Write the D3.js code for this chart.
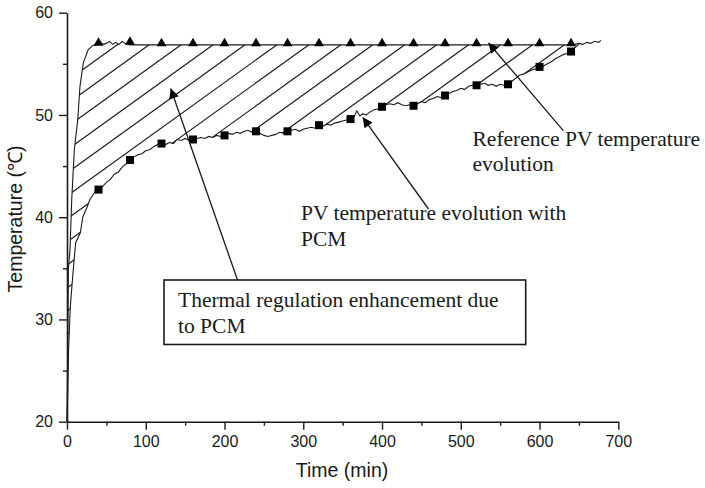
<!DOCTYPE html>
<html><head><meta charset="utf-8">
<script src="https://cdn.jsdelivr.net/npm/d3@7"></script>
<style>body{margin:0;background:#fff}svg{display:block}</style>
</head><body><svg id="c" width="705" height="488"></svg>
<script>
// ---- data ----
const refTime = [0,1,1.7,3.8,6,9.3,13.6,16.5,20.7,27,33,38,42,46,50,54,58,62,66,70,74,78,80,640,645,650,655,660,665,670,675,678];
const refTemp = [20,28,34.9,36.8,41.7,46.6,49.5,52.8,55.1,56.4,56.8,56.9,57.1,56.9,57.0,57.2,56.9,57.1,56.9,57.2,57.0,56.9,56.85,56.85,56.9,57.0,56.9,57.1,57.0,57.2,57.1,57.3];
const pcmTime = [0,1,2,4,6,8,11,14,17,20,25,29,33,36,40,45,50,55,60,65,70,75,80,85,90,95,100,105,110,115,120,125,130,135,140,145,150,155,160,165,170,175,180,185,190,195,200,205,210,215,220,225,230,235,240,245,250,255,260,265,270,275,280,285,290,295,300,305,310,315,320,325,330,335,340,345,350,355,360,365,368,372,375,380,385,390,395,400,405,410,415,420,425,430,435,440,445,450,455,460,465,470,475,480,485,490,495,500,505,510,515,520,525,530,535,540,545,550,555,560,565,570,575,580,585,590,595,600,605,610,615,620,625,630,635,640,645,650];
const pcmTemp = [20,23,27,31,33,34.9,37.5,38.0,38.5,40.0,40.9,41.7,42.2,42.5,42.7,43.0,43.4,43.7,44.2,44.4,44.9,45.2,45.6,45.9,46.1,46.2,46.5,46.6,46.9,47.1,47.2,47.1,47.3,47.2,47.6,47.5,47.7,47.5,47.6,47.7,47.8,47.7,47.9,47.8,48.0,47.9,48.0,48.2,48.1,48.3,48.2,48.4,48.5,48.3,48.4,48.2,48.0,47.9,48.0,48.1,48.3,48.2,48.4,48.5,48.6,48.4,48.6,48.7,48.8,48.7,49.0,48.9,49.1,49.0,49.2,49.3,49.4,49.5,49.6,49.9,50.4,49.9,50.1,50.0,50.3,50.5,50.6,50.8,51.0,51.1,51.0,51.2,51.0,50.9,51.0,50.9,51.1,51.3,51.2,51.5,51.6,51.8,51.7,51.9,52.1,52.3,52.4,52.6,52.5,52.8,52.9,52.9,53.0,53.1,52.9,53.0,52.8,53.0,52.9,53.0,53.3,53.6,53.9,54.0,54.2,54.4,54.5,54.7,54.8,55.0,55.2,55.5,55.7,55.9,56.0,56.2,56.6,56.9];
const markerTime = [40,80,120,160,200,240,280,320,360,400,440,480,520,560,600,640];
const refMarkerTemp = [56.9,57.0,56.85,56.85,56.85,56.85,56.85,56.85,56.85,56.85,56.85,56.85,56.85,56.85,56.85,56.85];
const pcmMarkerTemp = [42.7,45.6,47.2,47.6,48.0,48.4,48.4,49.0,49.6,50.8,50.9,51.9,52.9,53.0,54.7,56.2];
const xMajorTicks = [0,100,200,300,400,500,600,700];
const xMinorTicks = [50,150,250,350,450,550,650];
const yMajorTicks = [20,30,40,50,60];
const yMinorTicks = [25,35,45,55];
const xTitle = "Time (min)";
const yTitle = "Temperature (\u2103)";

// ---- chart ----
const svg = d3.select("#c");
const x = d3.scaleLinear().domain([0,700]).range([67,618.3]);
const y = d3.scaleLinear().domain([20,60]).range([421.7,12.7]);
const ink = "#1a1a1a";
const ref = refTime.map((t,i)=>[t,refTemp[i]]);
const pcm = pcmTime.map((t,i)=>[t,pcmTemp[i]]);
const line = d3.line().x(d=>x(d[0])).y(d=>y(d[1]));

// hatched region between curves
const regionRef = ref.filter(d=>d[0]<=650);
const region = regionRef.concat(pcm.slice().reverse());
svg.append("clipPath").attr("id","hclip").append("path").attr("d", line(region)+"Z");
const hg = svg.append("g").attr("clip-path","url(#hclip)");
const k = 0.72, step = 23, c0 = 44 + k*310;
for (let n=-30;n<=30;n++){
  const c = c0 + n*step;
  hg.append("line").attr("x1",0).attr("y1",c).attr("x2",705).attr("y2",c-k*705)
    .attr("stroke",ink).attr("stroke-width",1.2);
}

// curves
svg.append("path").attr("d",line(ref)).attr("fill","none").attr("stroke",ink).attr("stroke-width",1.1);
svg.append("path").attr("d",line(pcm)).attr("fill","none").attr("stroke",ink).attr("stroke-width",1.1);

// markers
const tri = d3.symbol().type(d3.symbolTriangle).size(42);
svg.append("g").selectAll("path").data(markerTime).join("path")
  .attr("d",tri).attr("transform",(t,i)=>`translate(${x(t)},${y(refMarkerTemp[i])-1.5})`).attr("fill","#000");
svg.append("g").selectAll("rect").data(markerTime).join("rect")
  .attr("x",(t)=>x(t)-4).attr("y",(t,i)=>y(pcmMarkerTemp[i])-4).attr("width",8).attr("height",8).attr("fill","#000");

// axes
const fontSans = "'Liberation Sans', Arial, sans-serif";
function styleAxis(g){
  g.select(".domain").attr("stroke",ink).attr("stroke-width",1.6);
  g.selectAll(".tick line").attr("stroke",ink).attr("stroke-width",1.4);
  g.selectAll(".tick text").attr("fill",ink).style("font-family",fontSans).style("font-size","16px");
}
const gx = svg.append("g").attr("transform",`translate(0,${y(20)})`)
  .call(d3.axisBottom(x).tickValues(xMajorTicks).tickSize(8).tickSizeOuter(0).tickPadding(6).tickFormat(d3.format("d")));
styleAxis(gx);
const gxm = svg.append("g").attr("transform",`translate(0,${y(20)})`)
  .call(d3.axisBottom(x).tickValues(xMinorTicks).tickSize(4).tickSizeOuter(0).tickFormat(""));
styleAxis(gxm); gxm.select(".domain").remove();
const gy = svg.append("g").attr("transform",`translate(${x(0)},0)`)
  .call(d3.axisLeft(y).tickValues(yMajorTicks).tickSize(8).tickSizeOuter(0).tickPadding(6).tickFormat(d3.format("d")));
styleAxis(gy);
const gym = svg.append("g").attr("transform",`translate(${x(0)},0)`)
  .call(d3.axisLeft(y).tickValues(yMinorTicks).tickSize(4).tickSizeOuter(0).tickFormat(""));
styleAxis(gym); gym.select(".domain").remove();

svg.append("text").attr("x",342).attr("y",477).attr("text-anchor","middle")
  .style("font-family",fontSans).style("font-size","19.5px").attr("fill",ink).text(xTitle);
svg.append("text").attr("transform","translate(21.5,219) rotate(-90)").attr("text-anchor","middle")
  .style("font-family",fontSans).style("font-size","19.5px").attr("fill",ink).text(yTitle);

// annotations
const fontSerif = "'Liberation Serif', 'Times New Roman', serif";
svg.append("defs").append("marker").attr("id","ah").attr("viewBox","0 0 10 10")
  .attr("refX",10).attr("refY",5).attr("markerWidth",13).attr("markerHeight",10)
  .attr("markerUnits","userSpaceOnUse").attr("orient","auto")
  .append("path").attr("d","M0,0L10,5L0,10Z").attr("fill","#000");
const arrows = [[563.3,130.7,488.5,43],[428.5,209,362.7,117.3],[237.5,280,170.7,88.5]];
arrows.forEach(a=>svg.append("line").attr("x1",a[0]).attr("y1",a[1]).attr("x2",a[2]).attr("y2",a[3])
  .attr("stroke",ink).attr("stroke-width",1.3).attr("marker-end","url(#ah)"));

svg.append("rect").attr("x",164).attr("y",280).attr("width",361.7).attr("height",64.5)
  .attr("fill","#fff").attr("stroke",ink).attr("stroke-width",1.6);
function label(xp,yp,s){svg.append("text").attr("x",xp).attr("y",yp).style("font-family",fontSerif)
  .style("font-size","21.5px").attr("fill",ink).text(s);}
label(472.5,146,"Reference PV temperature");
label(472.5,171,"evolution");
label(301,220,"PV temperature evolution with");
label(301,246,"PCM");
label(178,307,"Thermal regulation enhancement due");
label(178,333,"to PCM");
</script></body></html>
